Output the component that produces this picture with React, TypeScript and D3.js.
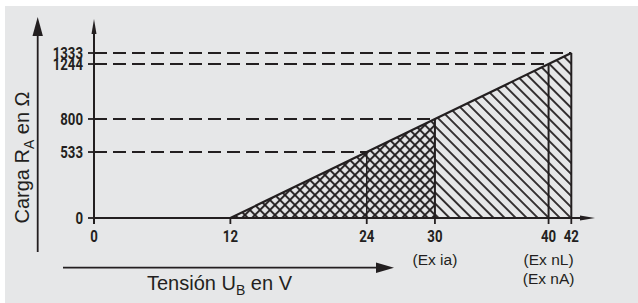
import React from "react";
import * as d3 from "d3";

const xTicks = [0, 12, 24, 30, 40, 42];
const yTicks = [0, 533, 800, 1244, 1333];
const lineU = [12, 24, 30, 40, 42];
const lineR = [0, 533, 800, 1244, 1333];
const refU = [24, 30, 40, 42];
const refR = [533, 800, 1244, 1333];
const crossEnd = 30;
const notes = [
  { u: 30, lines: ["(Ex ia)"] },
  { u: 40, lines: ["(Ex nL)", "(Ex nA)"] },
];

const W = 638;
const H = 303;
const INK = "#231f20";
const BG = "#e6e7e8";
const textFont = "'Liberation Sans', Arial, Helvetica, sans-serif";
const tickFont = "Roboto, 'Liberation Sans', Arial, sans-serif";

function TickText({ x, y, anchor, children }: { x: number; y: number; anchor: string; children: React.ReactNode }) {
  return (
    <text
      transform={`translate(${x},${y}) scale(0.8,1)`}
      textAnchor={anchor}
      fontFamily={tickFont}
      fontWeight={700}
      fontSize={16.5}
      fill={INK}
    >
      {children}
    </text>
  );
}

export default function App() {
  const x = d3.scaleLinear().domain([0, 42]).range([94, 571.3]);
  const y = d3.scaleLinear().domain([0, 1333]).range([218, 53]);

  const pts = lineU.map((u, i) => [u, lineR[i]] as [number, number]);
  const area = d3
    .area<[number, number]>()
    .x((d) => x(d[0]))
    .y0(y(0))
    .y1((d) => y(d[1]));
  const idxCross = lineU.indexOf(crossEnd);
  const crossPts = pts.slice(0, idxCross + 1);
  const diagPts = pts.slice(idxCross);
  const line = d3
    .line<[number, number]>()
    .x((d) => x(d[0]))
    .y((d) => y(d[1]));

  const x0 = x(0);
  const y0 = y(0);

  return (
    <svg
      width={W}
      height={H}
      style={{ position: "absolute", left: 0, top: 0, display: "block" }}
    >
      <defs>
        <pattern
          id="cross"
          width={7.07}
          height={7.07}
          patternUnits="userSpaceOnUse"
          patternTransform="rotate(45)"
        >
          <line x1={0} y1={-1} x2={0} y2={8.07} stroke={INK} strokeWidth={2} />
          <line x1={-1} y1={0} x2={8.07} y2={0} stroke={INK} strokeWidth={2} />
          <line x1={7.07} y1={-1} x2={7.07} y2={8.07} stroke={INK} strokeWidth={2} />
          <line x1={-1} y1={7.07} x2={8.07} y2={7.07} stroke={INK} strokeWidth={2} />
        </pattern>
        <pattern
          id="diag"
          width={7.8}
          height={7.8}
          patternUnits="userSpaceOnUse"
          patternTransform="rotate(-45)"
        >
          <line x1={0} y1={0} x2={0} y2={7.8} stroke={INK} strokeWidth={1.8} />
          <line x1={7.8} y1={0} x2={7.8} y2={7.8} stroke={INK} strokeWidth={1.8} />
        </pattern>
      </defs>
      <rect x={5} y={6} width={W - 5} height={H - 6} fill={BG} />

      {/* hatched areas */}
      <path d={area(crossPts) || ""} fill="url(#cross)" />
      <path d={area(diagPts) || ""} fill="url(#diag)" />

      {/* dashed reference lines */}
      {refU.map((u, i) => (
        <line
          key={"d" + u}
          x1={x0}
          x2={x(u)}
          y1={y(refR[i])}
          y2={y(refR[i])}
          stroke={INK}
          strokeWidth={1.8}
          strokeDasharray="13,6"
        />
      ))}
      {/* vertical lines */}
      {refU.map((u, i) => (
        <line
          key={"v" + u}
          x1={x(u)}
          x2={x(u)}
          y1={y0}
          y2={y(refR[i])}
          stroke={INK}
          strokeWidth={u === 24 ? 1.5 : 2}
        />
      ))}
      {/* hypotenuse */}
      <path d={line(pts) || ""} fill="none" stroke={INK} strokeWidth={2.2} />

      {/* axes */}
      <line x1={x0} x2={x0} y1={y0 + 6} y2={30} stroke={INK} strokeWidth={2} />
      <path d={`M${x0 - 2.5},34 L${x0},19 L${x0 + 2.5},34 Z`} fill={INK} />
      <line x1={x0} x2={582} y1={y0} y2={y0} stroke={INK} strokeWidth={2} />
      <path d={`M580,${y0 - 2.5} L595,${y0} L580,${y0 + 2.5} Z`} fill={INK} />

      {/* y ticks */}
      {yTicks.map((t) => (
        <g key={"yt" + t}>
          <line
            x1={x0 - 6}
            x2={t === 0 ? x0 : x0 + 6}
            y1={y(t)}
            y2={y(t)}
            stroke={INK}
            strokeWidth={1.8}
          />
          <TickText x={83} y={y(t) + 5.8} anchor="end">
            {t}
          </TickText>
        </g>
      ))}
      {/* x ticks */}
      {xTicks.map((t) => (
        <g key={"xt" + t}>
          <line
            x1={x(t)}
            x2={x(t)}
            y1={y0}
            y2={y0 + 6}
            stroke={INK}
            strokeWidth={1.8}
          />
          <TickText x={x(t)} y={242} anchor="middle">
            {t}
          </TickText>
        </g>
      ))}

      {/* notes */}
      {notes.map((n) =>
        n.lines.map((l, j) => (
          <text
            key={n.u + l}
            x={x(n.u)}
            y={264.5 + j * 19}
            textAnchor="middle"
            fontFamily={textFont}
            fontSize={15.5}
            fill={INK}
          >
            {l}
          </text>
        ))
      )}

      {/* y label arrow */}
      <line x1={37.7} x2={37.7} y1={252} y2={30} stroke={INK} strokeWidth={1.8} />
      <path d="M32.5,36 L37.7,17 L42.9,36 Z" fill={INK} />
      <text
        transform="translate(29,157.5) rotate(-90)"
        textAnchor="middle"
        fontFamily={textFont}
        fontSize={20}
        fill={INK}
      >
        Carga R<tspan fontSize={14} dy={5}>A</tspan>
        <tspan dy={-5}> en Ω</tspan>
      </text>

      {/* x label arrow */}
      <line x1={63} x2={382} y1={267.7} y2={267.7} stroke={INK} strokeWidth={1.8} />
      <path d="M376,262.5 L394,267.7 L376,272.9 Z" fill={INK} />
      <text
        x={147}
        y={290}
        textAnchor="start"
        fontFamily={textFont}
        fontSize={20}
        fill={INK}
      >
        Tensión U<tspan fontSize={14} dy={5}>B</tspan>
        <tspan dy={-5}> en V</tspan>
      </text>
    </svg>
  );
}
